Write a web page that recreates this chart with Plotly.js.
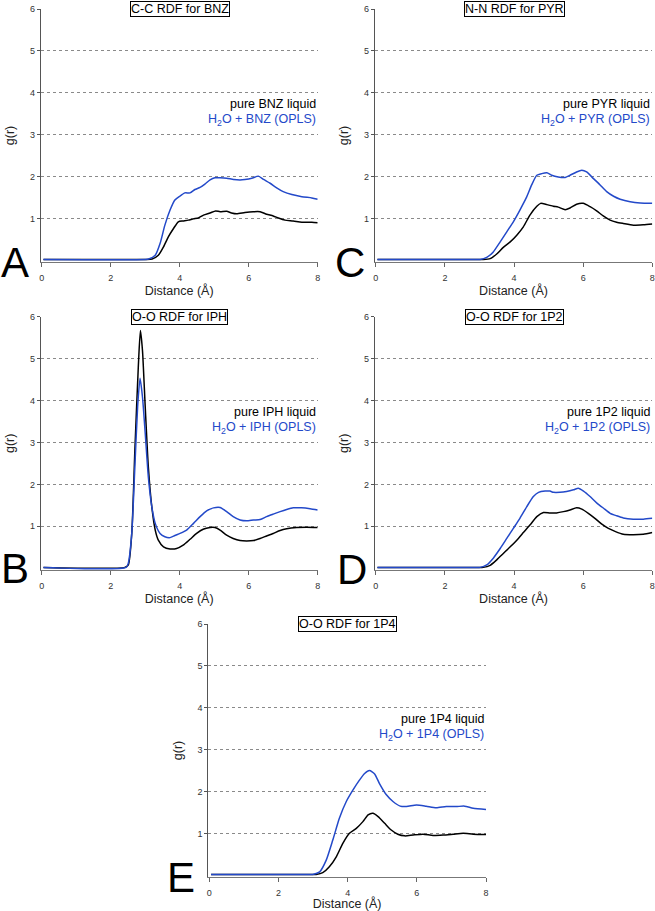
<!DOCTYPE html>
<html>
<head>
<meta charset="utf-8">
<script src="https://cdn.plot.ly/plotly-3.0.1.min.js"></script>
<style>
  html, body { margin: 0; padding: 0; background: #fff; }
  #chart { width: 655px; height: 911px; }
</style>
</head>
<body>
<div id="chart"></div>
<script>
// ---------- data ----------
// Panel A: C-C RDF for BNZ
const bnzPureX = [0.05, 3.0, 3.2, 3.38, 3.53, 3.67, 3.82, 3.96, 4.1, 4.25, 4.4, 4.54, 4.69, 4.88, 5.04, 5.17, 5.36, 5.5, 5.65, 5.89, 6.13, 6.33, 6.52, 6.71, 6.86, 7.05, 7.29, 7.54, 7.83, 8.0];
const bnzPureY = [0.02, 0.02, 0.03, 0.12, 0.32, 0.56, 0.76, 0.92, 0.94, 0.96, 0.99, 1.01, 1.08, 1.13, 1.18, 1.16, 1.17, 1.13, 1.11, 1.14, 1.16, 1.16, 1.10, 1.06, 1.01, 0.96, 0.94, 0.91, 0.91, 0.90];
const bnzMixX = [0.05, 3.0, 3.1, 3.29, 3.43, 3.57, 3.72, 3.86, 4.0, 4.15, 4.3, 4.44, 4.59, 4.73, 4.88, 5.02, 5.17, 5.36, 5.56, 5.75, 5.89, 6.09, 6.28, 6.43, 6.62, 6.81, 7.0, 7.25, 7.54, 7.83, 8.0];
const bnzMixY = [0.02, 0.02, 0.03, 0.12, 0.4, 0.84, 1.2, 1.44, 1.53, 1.61, 1.61, 1.69, 1.74, 1.82, 1.92, 1.97, 1.97, 1.96, 1.93, 1.92, 1.93, 1.96, 2.01, 1.93, 1.84, 1.73, 1.64, 1.57, 1.52, 1.49, 1.46];

// Panel C: N-N RDF for PYR
const pyrPureX = [0.05, 3.0, 3.11, 3.31, 3.5, 3.69, 3.89, 4.08, 4.27, 4.46, 4.66, 4.77, 4.95, 5.14, 5.28, 5.48, 5.62, 5.81, 6.0, 6.2, 6.39, 6.58, 6.78, 6.97, 7.16, 7.45, 7.74, 8.0];
const pyrPureY = [0.02, 0.02, 0.02, 0.04, 0.15, 0.31, 0.44, 0.6, 0.8, 1.08, 1.29, 1.36, 1.33, 1.29, 1.27, 1.21, 1.25, 1.34, 1.36, 1.28, 1.18, 1.06, 0.96, 0.91, 0.88, 0.84, 0.85, 0.87];
const pyrMixX = [0.05, 2.95, 3.02, 3.21, 3.4, 3.6, 3.79, 3.98, 4.17, 4.37, 4.51, 4.66, 4.8, 4.95, 5.09, 5.28, 5.48, 5.62, 5.81, 5.96, 6.1, 6.3, 6.49, 6.68, 6.88, 7.07, 7.36, 7.65, 8.0];
const pyrMixY = [0.02, 0.02, 0.02, 0.07, 0.2, 0.44, 0.68, 0.92, 1.2, 1.52, 1.8, 2.03, 2.07, 2.09, 2.03, 1.99, 1.98, 2.03, 2.11, 2.15, 2.11, 1.95, 1.8, 1.64, 1.53, 1.46, 1.4, 1.37, 1.36];

// Panel B: O-O RDF for IPH
const iphPureX = [0.05, 2.41, 2.51, 2.61, 2.7, 2.8, 2.86, 2.92, 3.0, 3.09, 3.19, 3.29, 3.38, 3.53, 3.72, 3.91, 4.1, 4.3, 4.49, 4.68, 4.88, 5.02, 5.17, 5.36, 5.55, 5.75, 5.94, 6.14, 6.33, 6.52, 6.71, 6.91, 7.1, 7.39, 7.68, 8.0];
const iphPureY = [0.02, 0.02, 0.08, 0.83, 2.82, 4.81, 5.67, 5.2, 3.85, 2.42, 1.47, 0.91, 0.67, 0.51, 0.46, 0.47, 0.55, 0.69, 0.83, 0.93, 0.97, 0.97, 0.91, 0.79, 0.71, 0.66, 0.65, 0.66, 0.71, 0.77, 0.83, 0.9, 0.94, 0.97, 0.98, 0.97];
const iphMixX = [0.05, 2.45, 2.51, 2.61, 2.7, 2.78, 2.85, 2.92, 3.0, 3.09, 3.19, 3.29, 3.43, 3.57, 3.72, 3.86, 4.01, 4.2, 4.4, 4.59, 4.78, 4.98, 5.17, 5.36, 5.55, 5.75, 5.94, 6.14, 6.33, 6.52, 6.71, 6.91, 7.1, 7.29, 7.53, 7.78, 8.0];
const iphMixY = [0.02, 0.02, 0.12, 0.83, 2.42, 3.85, 4.53, 4.09, 3.22, 2.18, 1.47, 1.07, 0.83, 0.75, 0.73, 0.78, 0.83, 0.91, 1.07, 1.23, 1.37, 1.44, 1.45, 1.35, 1.23, 1.15, 1.13, 1.15, 1.16, 1.23, 1.29, 1.35, 1.4, 1.44, 1.44, 1.42, 1.39];

// Panel D: O-O RDF for 1P2
const p12PureX = [0.05, 3.0, 3.11, 3.31, 3.5, 3.69, 3.89, 4.08, 4.27, 4.46, 4.66, 4.85, 5.04, 5.23, 5.43, 5.62, 5.81, 5.96, 6.15, 6.34, 6.54, 6.73, 6.92, 7.16, 7.45, 7.74, 8.0];
const p12PureY = [0.02, 0.02, 0.02, 0.07, 0.2, 0.35, 0.51, 0.67, 0.85, 1.03, 1.23, 1.33, 1.32, 1.32, 1.35, 1.39, 1.44, 1.41, 1.31, 1.19, 1.05, 0.95, 0.88, 0.81, 0.8, 0.81, 0.85];
const p12MixX = [0.05, 2.95, 3.02, 3.21, 3.4, 3.6, 3.79, 3.98, 4.17, 4.37, 4.56, 4.71, 4.9, 5.04, 5.14, 5.33, 5.52, 5.72, 5.86, 6.01, 6.2, 6.39, 6.59, 6.78, 6.97, 7.16, 7.45, 7.74, 8.0];
const p12MixY = [0.02, 0.02, 0.02, 0.08, 0.24, 0.47, 0.71, 0.95, 1.19, 1.47, 1.71, 1.81, 1.84, 1.84, 1.81, 1.81, 1.83, 1.87, 1.91, 1.84, 1.71, 1.56, 1.43, 1.31, 1.25, 1.2, 1.17, 1.17, 1.19];

// Panel E: O-O RDF for 1P4
const p14PureX = [0.05, 3.0, 3.09, 3.28, 3.47, 3.67, 3.86, 4.05, 4.25, 4.44, 4.59, 4.73, 4.88, 5.07, 5.26, 5.45, 5.65, 5.89, 6.18, 6.47, 6.76, 7.05, 7.34, 7.63, 8.0];
const p14PureY = [0.02, 0.02, 0.02, 0.06, 0.2, 0.44, 0.76, 1.0, 1.12, 1.28, 1.44, 1.48, 1.4, 1.24, 1.08, 0.98, 0.94, 0.96, 0.98, 0.95, 0.96, 0.98, 1.0, 0.98, 0.97];
const p14MixX = [0.05, 2.9, 2.99, 3.19, 3.38, 3.57, 3.76, 3.96, 4.15, 4.34, 4.49, 4.63, 4.78, 4.92, 5.12, 5.31, 5.52, 5.7, 5.99, 6.27, 6.56, 6.85, 7.14, 7.38, 7.63, 8.0];
const p14MixY = [0.02, 0.02, 0.02, 0.08, 0.36, 0.84, 1.36, 1.76, 2.03, 2.27, 2.43, 2.5, 2.42, 2.19, 1.92, 1.76, 1.65, 1.64, 1.68, 1.65, 1.61, 1.64, 1.64, 1.65, 1.6, 1.57];

// Text
const panelLetters = ["A", "C", "B", "D", "E"];
const panelTitles = ["C-C RDF for BNZ", "N-N RDF for PYR", "O-O RDF for IPH", "O-O RDF for 1P2", "O-O RDF for 1P4"];
const molecules = ["BNZ", "PYR", "IPH", "1P2", "1P4"];
const xTickVals = [0, 2, 4, 6, 8];
const yTickVals = [1, 2, 3, 4, 5, 6];
const xTitle = "Distance (Å)";
const yTitle = "g(r)";

// ---------- layout helpers ----------
const W = 655, H = 911;
const BLUE = "#2349c9";
const FONT = "Liberation Sans, Arial, Helvetica, sans-serif";

// plot rectangles in px: [left, right, top, bottom]
const boxes = [
  [40.7, 317.7, 9, 262],       // A
  [374.7, 652.3, 9, 262],      // C
  [40.7, 317.7, 316.7, 569.9], // B
  [374.7, 652.3, 316.7, 569.9],// D
  [208.3, 486.0, 624, 876.9]   // E
];
// letter centres in px
const letterPos = [[14.5, 262], [350, 263], [15, 568], [352, 569], [181, 877]];

const series = [
  [bnzPureX, bnzPureY, bnzMixX, bnzMixY],
  [pyrPureX, pyrPureY, pyrMixX, pyrMixY],
  [iphPureX, iphPureY, iphMixX, iphMixY],
  [p12PureX, p12PureY, p12MixX, p12MixY],
  [p14PureX, p14PureY, p14MixX, p14MixY]
];

const traces = [];
const layout = {
  width: W, height: H,
  margin: {l: 0, r: 0, t: 0, b: 0},
  paper_bgcolor: "#fff", plot_bgcolor: "#fff",
  showlegend: false,
  font: {family: FONT, color: "#000"},
  annotations: []
};

boxes.forEach((b, i) => {
  const n = i === 0 ? "" : String(i + 1);
  const xa = "x" + n, ya = "y" + n;
  const [px, py, mx, my] = series[i];
  traces.push({x: px, y: py, xaxis: xa, yaxis: ya, type: "scatter", mode: "lines",
    line: {color: "#000", width: 1.5, shape: "spline", smoothing: 0.6}, hoverinfo: "skip"});
  traces.push({x: mx, y: my, xaxis: xa, yaxis: ya, type: "scatter", mode: "lines",
    line: {color: BLUE, width: 1.5, shape: "spline", smoothing: 0.6}, hoverinfo: "skip"});

  layout["xaxis" + n] = {
    domain: [b[0] / W, b[1] / W], anchor: ya, range: [-0.03, 8],
    tickvals: xTickVals, ticks: "outside", ticklen: 4, tickcolor: "#666", tickwidth: 1,
    showline: true, linecolor: "#777", linewidth: 1, showgrid: false, zeroline: false,
    tickfont: {size: 9, color: "#333", family: FONT}, ticklabelstandoff: 3,
    title: {text: xTitle, font: {size: 12.5, color: "#222", family: FONT}, standoff: 1},
    fixedrange: true
  };
  layout["yaxis" + n] = {
    domain: [1 - b[3] / H, 1 - b[2] / H], anchor: xa, range: [-0.04, 6],
    tickvals: yTickVals, ticks: "outside", ticklen: 3, tickcolor: "#555", tickwidth: 1,
    showline: true, linecolor: "#555", linewidth: 1,
    showgrid: true, gridcolor: "#8a8a8a", griddash: "dot", gridwidth: 1, zeroline: false,
    tickfont: {size: 9, color: "#333", family: FONT},
    title: {text: yTitle, font: {size: 12.5, color: "#222", family: FONT}, standoff: 12},
    fixedrange: true
  };

  // boxed panel title
  layout.annotations.push({
    xref: xa, yref: ya, x: 4, y: 6, xanchor: "center", yanchor: "middle",
    text: panelTitles[i], showarrow: false, bgcolor: "#fff",
    bordercolor: "#000", borderwidth: 1, borderpad: 0,
    font: {size: 12.5, color: "#000", family: FONT}
  });
  // in-plot legend text
  layout.annotations.push({
    xref: xa, yref: ya, x: 8, y: 3.72, xanchor: "right", yanchor: "middle",
    text: "pure " + molecules[i] + " liquid", showarrow: false, align: "right",
    font: {size: 12.5, color: "#000", family: FONT}
  });
  layout.annotations.push({
    xref: xa, yref: ya, x: 8, y: 3.34, xanchor: "right", yanchor: "middle",
    text: "H<sub>2</sub>O + " + molecules[i] + " (OPLS)", showarrow: false, align: "right",
    font: {size: 12.5, color: BLUE, family: FONT}
  });
  // panel letter
  layout.annotations.push({
    xref: "paper", yref: "paper",
    x: letterPos[i][0] / W, y: 1 - letterPos[i][1] / H,
    xanchor: "center", yanchor: "middle",
    text: panelLetters[i], showarrow: false,
    font: {size: 42, color: "#000", family: FONT}
  });
});

Plotly.newPlot("chart", traces, layout, {displayModeBar: false, staticPlot: true});
</script>
</body>
</html>
